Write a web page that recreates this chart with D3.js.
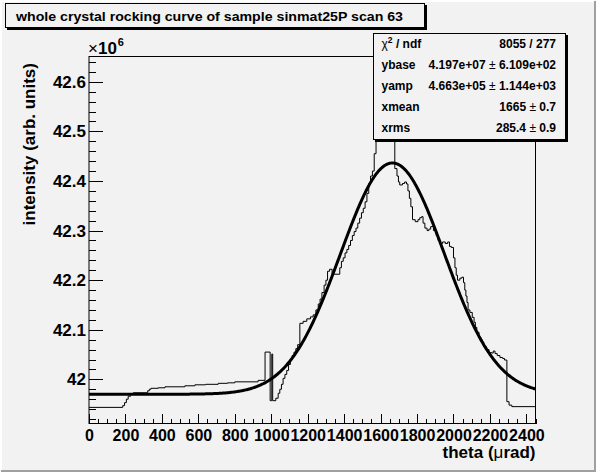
<!DOCTYPE html>
<html>
<head>
<meta charset="utf-8">
<script src="https://cdn.jsdelivr.net/npm/d3@7"></script>
<style>
  body { margin: 0; background: #f2f2f2; }
  svg { display: block; font-family: "Liberation Sans", Arial, Helvetica, sans-serif; font-weight: bold; }
</style>
</head>
<body>
<svg id="canvas" width="596" height="472"></svg>
<script>
// histogram steps: left edge of each step (theta, urad) and its content (intensity x 10^6)
var binStart = [
  0, 185, 195, 205, 215, 228, 243, 322, 331, 340,
  380, 417, 526, 581, 640, 709, 760, 800, 928, 966,
  994, 1003, 1008, 1025, 1038, 1047, 1056, 1065, 1075, 1085,
  1095, 1105, 1115, 1125, 1135, 1145, 1157, 1175, 1195, 1215,
  1230, 1245, 1258, 1268, 1278, 1290, 1300, 1309, 1320, 1334,
  1376, 1385, 1395, 1405, 1415, 1425, 1435, 1445, 1455, 1465,
  1475, 1485, 1495, 1505, 1515, 1525, 1535, 1545, 1555, 1565,
  1575, 1580, 1600, 1620, 1640, 1660, 1678, 1690, 1698, 1705,
  1720, 1732, 1742, 1750, 1758, 1766, 1775, 1790, 1805, 1815,
  1825, 1833, 1843, 1855, 1865, 1875, 1890, 1905, 1915, 1925,
  1940, 1955, 1968, 1978, 1988, 2000, 2008, 2015, 2022, 2035,
  2046, 2055, 2062, 2068, 2074, 2080, 2090, 2103, 2113, 2120,
  2128, 2140, 2150, 2158, 2166, 2180, 2195, 2210, 2218, 2228,
  2240, 2255, 2270, 2280, 2293, 2305, 2320
];
var binValue = [
  41.9435, 41.947, 41.953, 41.960, 41.966, 41.971, 41.973, 41.977, 41.980, 41.982,
  41.983, 41.985, 41.987, 41.989, 41.990, 41.992, 41.993, 41.995, 41.998, 42.055,
  41.957, 42.051, 41.957, 41.962, 41.972, 41.980, 41.990, 42.002, 42.010, 42.018,
  42.030, 42.040, 42.048, 42.055, 42.062, 42.070, 42.113, 42.117, 42.122, 42.126,
  42.130, 42.140, 42.152, 42.162, 42.175, 42.190, 42.200, 42.218, 42.222, 42.212,
  42.225, 42.238, 42.245, 42.255, 42.262, 42.270, 42.280, 42.290, 42.298, 42.305,
  42.315, 42.325, 42.336, 42.345, 42.358, 42.375, 42.395, 42.410, 42.420, 42.455,
  42.530, 42.560, 42.590, 42.600, 42.580, 42.550, 42.425, 42.410, 42.398, 42.392,
  42.395, 42.398, 42.394, 42.380, 42.365, 42.348, 42.322, 42.318, 42.322, 42.326,
  42.328, 42.315, 42.305, 42.300, 42.303, 42.308, 42.300, 42.290, 42.280, 42.274,
  42.277, 42.274, 42.277, 42.268, 42.266, 42.245, 42.225, 42.210, 42.200, 42.204,
  42.206, 42.195, 42.180, 42.168, 42.155, 42.140, 42.135, 42.125, 42.115, 42.105,
  42.095, 42.085, 42.080, 42.075, 42.066, 42.060, 42.054, 42.053, 42.057, 42.052,
  42.048, 42.044, 42.042, 42.039, 41.955, 41.948, 41.945
];
var thetaRange = [0, 2450];
var intensityRange = [41.911, 42.651];

var xTicks = [0, 200, 400, 600, 800, 1000, 1200, 1400, 1600, 1800, 2000, 2200, 2400];
var xTickLabels = ['0', '200', '400', '600', '800', '1000', '1200', '1400', '1600', '1800', '2000', '2200', '2400'];
var yTicks = [42, 42.1, 42.2, 42.3, 42.4, 42.5, 42.6];
var yTickLabels = ['42', '42.1', '42.2', '42.3', '42.4', '42.5', '42.6'];

// gaussian fit: ybase, yamp (both x 10^6), xmean, xrms
var fitParams = [41.97, 0.4663, 1665, 285.4];
var statNames = ['ybase', 'yamp', 'xmean', 'xrms'];
var statValues = ['4.197e+07', '4.663e+05', '1665', '285.4'];
var statErrors = ['6.109e+02', '1.144e+03', '0.7', '0.9'];
var chi2 = '8055 / 277';

var svg = d3.select('#canvas');

// pad + bevel
svg.append('rect').attr('width', 596).attr('height', 472).attr('fill', '#f2f2f2');
svg.append('path').attr('d', 'M1,471V1H595').attr('fill', 'none').attr('stroke', '#ffffff').attr('stroke-width', 2);
svg.append('path').attr('d', 'M1,471H595V1').attr('fill', 'none').attr('stroke', '#a0a0a0').attr('stroke-width', 2);

var frameL = 89, frameR = 535.5, frameT = 56.5, frameB = 423.5;

var x = d3.scaleLinear().domain(thetaRange).range([frameL, frameR]);
var y = d3.scaleLinear().domain(intensityRange).range([frameB, frameT]);

// histogram
var steps = binStart.map(function(d, i) { return [d, binValue[i]]; });
steps.push([thetaRange[1], binValue[binValue.length - 1]]);

var stepLine = d3.line()
    .x(function(d) { return x(d[0]); })
    .y(function(d) { return y(d[1]); })
    .curve(d3.curveStepAfter);

svg.append('path')
    .datum(steps)
    .attr('d', stepLine)
    .attr('fill', 'none')
    .attr('stroke', '#000')
    .attr('stroke-width', 1);

// fit function
var fitX = d3.range(thetaRange[0], thetaRange[1] + 1, 5);
var fitLine = d3.line()
    .x(function(d) { return x(d); })
    .y(function(d) {
      var t = (d - fitParams[2]) / fitParams[3];
      return y(fitParams[0] + fitParams[1] * Math.exp(-0.5 * t * t));
    });

svg.append('path')
    .datum(fitX)
    .attr('d', fitLine)
    .attr('fill', 'none')
    .attr('stroke', '#000')
    .attr('stroke-width', 3)
    .attr('stroke-linejoin', 'round');

// frame
svg.append('rect')
    .attr('x', frameL).attr('y', frameT)
    .attr('width', frameR - frameL).attr('height', frameB - frameT)
    .attr('fill', 'none').attr('stroke', '#000');

// axes
var xMinor = svg.append('g')
    .attr('transform', 'translate(0,' + frameB + ')')
    .call(d3.axisBottom(x).tickValues(d3.range(0, 2451, 50)).tickFormat('').tickSize(-4.5).tickSizeOuter(0));
xMinor.select('.domain').remove();

var xAxis = svg.append('g')
    .attr('transform', 'translate(0,' + frameB + ')')
    .call(d3.axisBottom(x).tickValues(xTicks)
      .tickFormat(function(d, i) { return xTickLabels[i]; })
      .tickSize(-9.5).tickSizeOuter(0).tickPadding(6));
xAxis.select('.domain').remove();
xAxis.selectAll('text').style('font', 'bold 16px "Liberation Sans", Arial, sans-serif');

var yMinor = svg.append('g')
    .attr('transform', 'translate(' + frameL + ',0)')
    .call(d3.axisLeft(y).tickValues(d3.range(41.92, 42.65, 0.02)).tickFormat('').tickSize(-7).tickSizeOuter(0));
yMinor.select('.domain').remove();

var yAxis = svg.append('g')
    .attr('transform', 'translate(' + frameL + ',0)')
    .call(d3.axisLeft(y).tickValues(yTicks)
      .tickFormat(function(d, i) { return yTickLabels[i]; })
      .tickSize(-14).tickSizeOuter(0).tickPadding(3));
yAxis.select('.domain').remove();
yAxis.selectAll('text').style('font', 'bold 17px "Liberation Sans", Arial, sans-serif');

svg.selectAll('.tick line').attr('shape-rendering', 'crispEdges');

// exponent
var expo = svg.append('text').attr('x', frameL - 1).attr('y', 54).style('font-size', '17px');
expo.append('tspan').style('font-weight', 'normal').text('\u00d7');
expo.append('tspan').text('10');
expo.append('tspan').attr('dy', -8).attr('dx', 1).style('font-size', '11px').text('6');

// axis titles
var xTitle = svg.append('text')
    .attr('x', frameR).attr('y', 458)
    .attr('text-anchor', 'end')
    .style('font-size', '17px');
xTitle.append('tspan').text('theta (');
xTitle.append('tspan').style('font-weight', 'normal').text('\u03bc');
xTitle.append('tspan').text('rad)');

svg.append('text')
    .attr('transform', 'translate(35,63) rotate(-90)')
    .attr('text-anchor', 'end')
    .style('font-size', '17px')
    .text('intensity (arb. units)');

// title box
svg.append('rect').attr('x', 7).attr('y', 5).attr('width', 420).attr('height', 25).attr('fill', '#000');
svg.append('rect').attr('x', 5.5).attr('y', 3.5).attr('width', 419).attr('height', 24)
    .attr('fill', '#f2f2f2').attr('stroke', '#000');
svg.append('text')
    .attr('x', 16).attr('y', 21)
    .attr('textLength', 387).attr('lengthAdjust', 'spacingAndGlyphs')
    .style('font-size', '12.5px')
    .text('whole crystal rocking curve of sample sinmat25P scan 63');

// stats box
var sx0 = 373.5, sy0 = 33.5, sw = 192, sh = 106;
svg.append('rect').attr('x', sx0 + 1.5).attr('y', sy0 + 1.5).attr('width', sw + 1).attr('height', sh + 1).attr('fill', '#000');
svg.append('rect').attr('x', sx0).attr('y', sy0).attr('width', sw).attr('height', sh)
    .attr('fill', '#f2f2f2').attr('stroke', '#000');

var rowY = function(i) { return 47.5 + i * 21.2; };
var statFont = '12px';

var chiLabel = svg.append('text').attr('x', 381.5).attr('y', rowY(0)).style('font-size', statFont);
chiLabel.append('tspan').style('font-weight', 'normal').text('\u03c7');
chiLabel.append('tspan').attr('dy', -5).style('font-size', '8.5px').text('2');
chiLabel.append('tspan').attr('dy', 5).text(' / ndf');
svg.append('text').attr('x', 556).attr('y', rowY(0)).attr('text-anchor', 'end')
    .style('font-size', statFont).text(chi2);

statNames.forEach(function(name, i) {
  svg.append('text').attr('x', 381.5).attr('y', rowY(i + 1)).style('font-size', statFont).text(name);
  var v = svg.append('text').attr('x', 556).attr('y', rowY(i + 1)).attr('text-anchor', 'end').style('font-size', statFont);
  v.append('tspan').text(statValues[i] + ' ');
  v.append('tspan').style('font-weight', 'normal').text('\u00b1');
  v.append('tspan').text(' ' + statErrors[i]);
});
</script>
</body>
</html>
